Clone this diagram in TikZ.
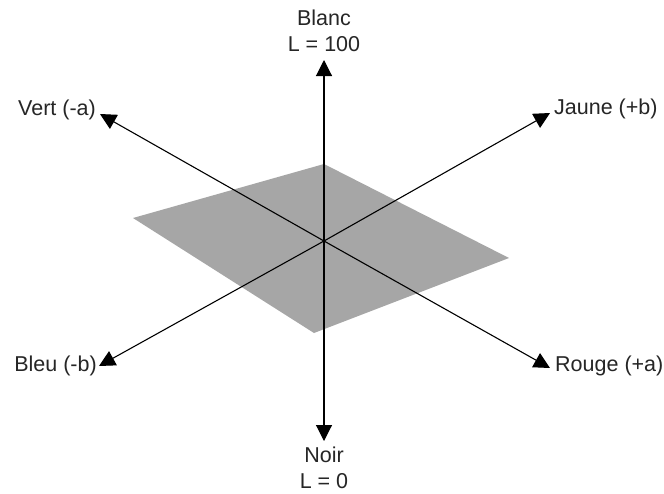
\documentclass[tikz,border=0pt]{standalone}
\usepackage{fontspec}
\setmainfont{Liberation Sans}
\usetikzlibrary{arrows.meta}
\begin{document}
\begin{tikzpicture}[x=1pt,y=-1pt,
  axis/.style={line width=1.1pt,-{Triangle[length=16pt,width=16pt]}},
  lab/.style={inner sep=0pt,font=\fontsize{21.5pt}{25.5pt}\selectfont,text=black!85},
  plane/.style={fill=black!35,draw=none}]
\useasboundingbox (0,0) rectangle (664,493);
\fill[white] (0,0) rectangle (664,493);
% plane
\coordinate (p1) at (324,164);
\coordinate (p2) at (509,258);
\coordinate (p3) at (314,333);
\coordinate (p4) at (133,218);
\fill[plane] (p1) -- (p2) -- (p3) -- (p4) -- cycle;
% axes
\coordinate (c) at (324,241);
\coordinate (top) at (324,60);
\coordinate (bot) at (324,441);
\coordinate (vert) at (100,114);
\coordinate (jaune) at (550,113);
\coordinate (bleu) at (99,366);
\coordinate (rouge) at (550,368);
\foreach \t in {top,bot,vert,jaune,bleu,rouge}{\draw[axis] (c) -- (\t);}
\fill (c) circle (1.2pt);
% labels
\node[lab,align=center] (lblanc) at (324,31) {Blanc\\L = 100};
\node[lab,align=center] (lnoir) at (324,468) {Noir\\L = 0};
\node[lab,anchor=east] (lvert) at (96,110) {Vert (-a)};
\node[lab,anchor=west] (ljaune) at (554,109) {Jaune (+b)};
\node[lab,anchor=east] (lbleu) at (97,366) {Bleu (-b)};
\node[lab,anchor=west] (lrouge) at (555,366) {Rouge (+a)};
\end{tikzpicture}
\end{document}
